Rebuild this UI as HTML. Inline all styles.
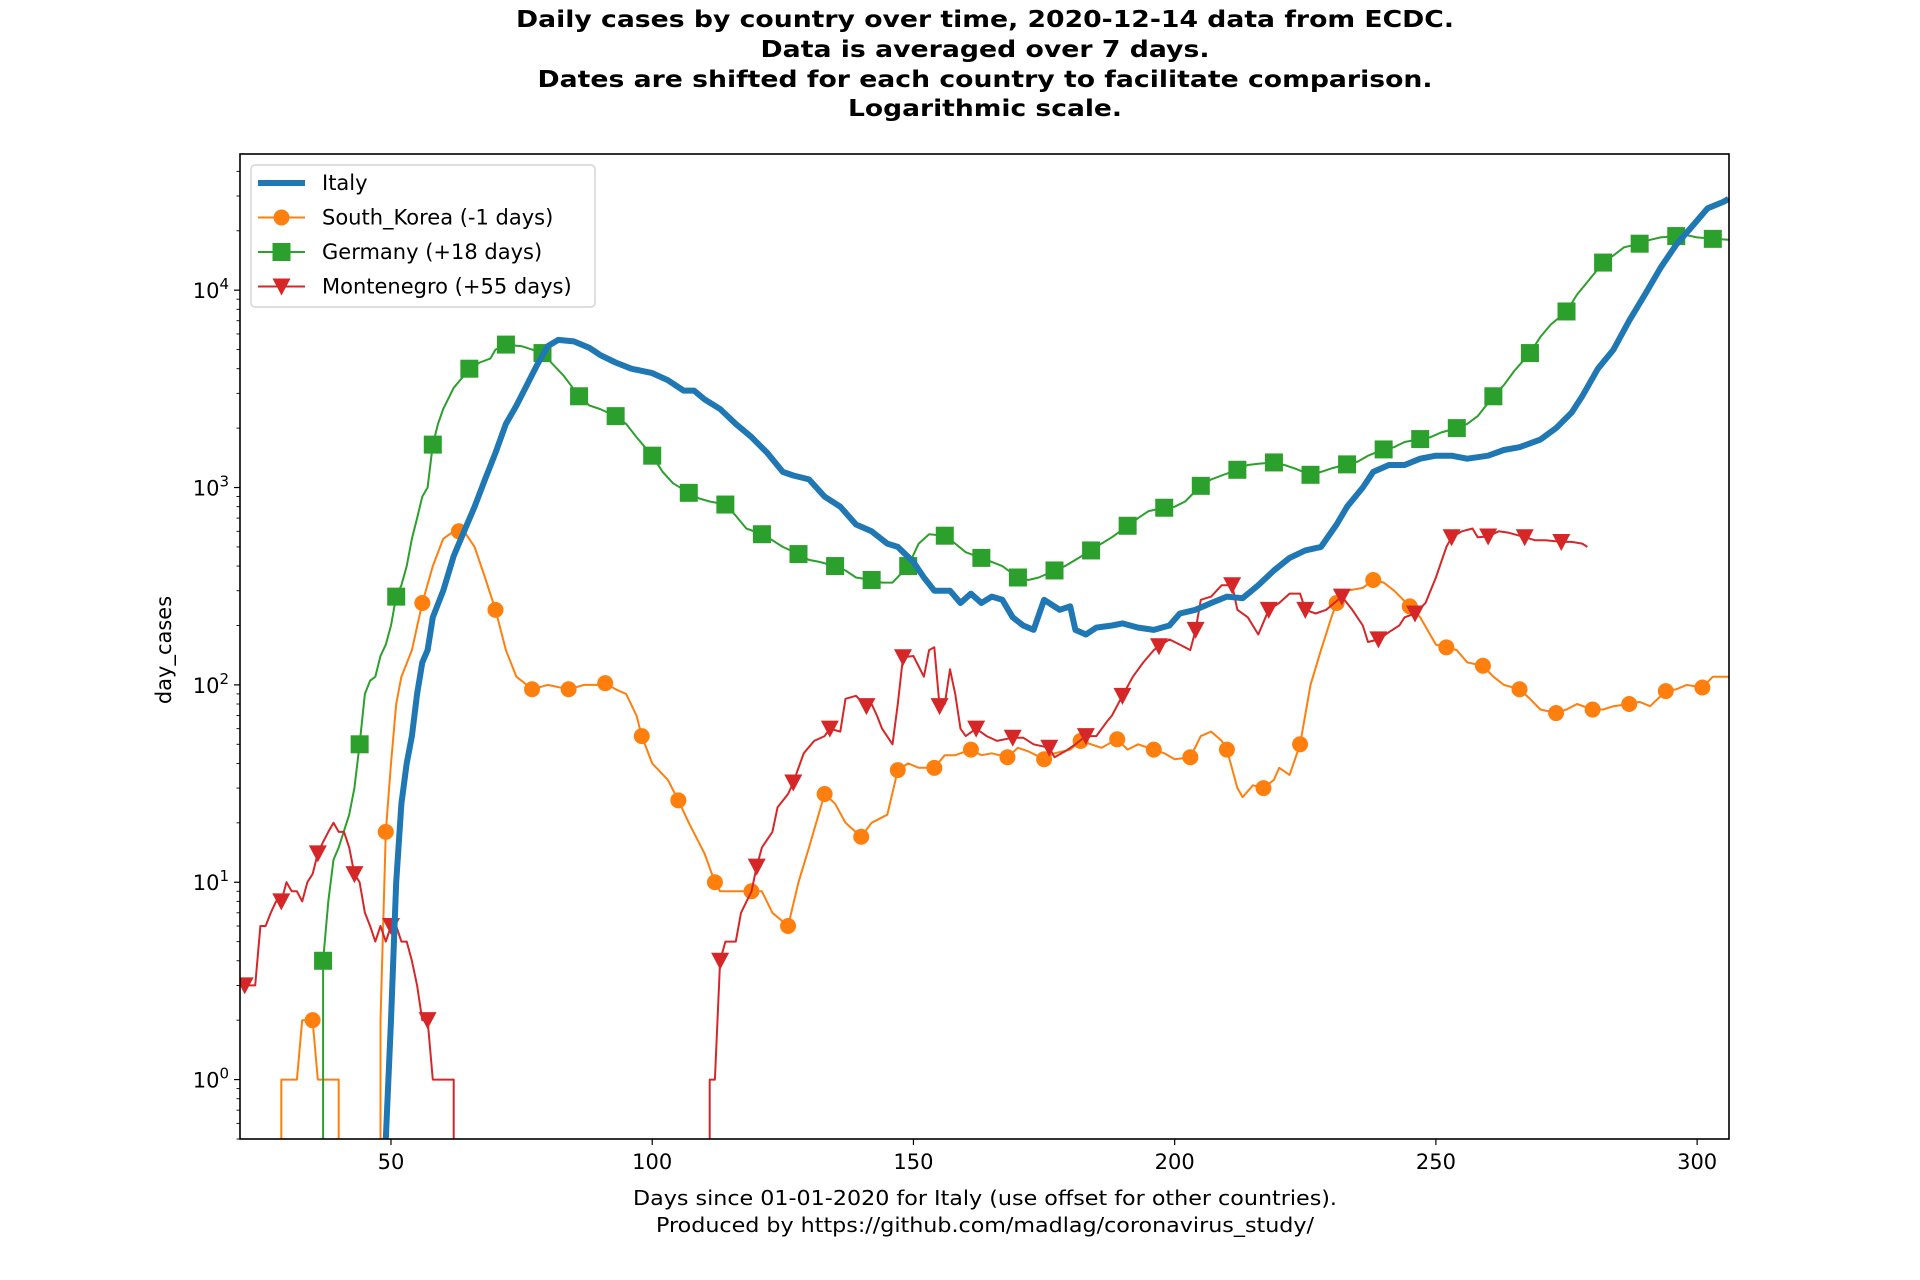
<!DOCTYPE html>
<html><head><meta charset="utf-8"><style>
html,body{margin:0;padding:0;background:#fff;overflow:hidden;width:1920px;height:1280px;}
svg{display:block;font-family:"DejaVu Sans","Liberation Sans",sans-serif;overflow:hidden;}
</style></head><body>
<svg id="chart" width="1920" height="1280" viewBox="0 0 1920 1280" xmlns="http://www.w3.org/2000/svg">
<g font-weight="bold" font-size="23" text-anchor="middle" fill="#000">
<text x="985" y="27" textLength="938" lengthAdjust="spacingAndGlyphs">Daily cases by country over time, 2020-12-14 data from ECDC.</text>
<text x="985" y="57" textLength="449" lengthAdjust="spacingAndGlyphs">Data is averaged over 7 days.</text>
<text x="985" y="87" textLength="895" lengthAdjust="spacingAndGlyphs">Dates are shifted for each country to facilitate comparison.</text>
<text x="985" y="116" textLength="274" lengthAdjust="spacingAndGlyphs">Logarithmic scale.</text>
</g>
<defs><clipPath id="plotclip"><rect x="240" y="154" width="1489" height="985"/></clipPath></defs>
<g id="plot" clip-path="url(#plotclip)"></g>
<rect x="240" y="154" width="1489" height="985" fill="none" stroke="#000" stroke-width="1.6"/>
<g id="axes"></g>
<text x="0" y="0" font-size="21" text-anchor="middle" transform="translate(171,650) rotate(-90)">day_cases</text>
<g font-size="20" text-anchor="middle">
<text x="985" y="1205" textLength="704" lengthAdjust="spacingAndGlyphs">Days since 01-01-2020 for Italy (use offset for other countries).</text>
<text x="985" y="1232" textLength="658" lengthAdjust="spacingAndGlyphs">Produced by https://github.com/madlag/coronavirus_study/</text>
</g>
<g id="legend"></g>
</svg>
<script>
const xTicks=[50,100,150,200,250,300];
const yTickExps=[0,1,2,3,4];
const italyDays=[48,49,50,51,52,53,54,55,56,57,58,60,62,64,66,68,70,72,74,76,78,80,82,85,88,90,93,96,100,103,106,108,110,113,116,119,122,125,127,130,133,136,139,142,145,147,150,152,154,157,159,161,163,165,167,169,171,173,175,178,180,181,183,185,188,190,193,196,199,201,204,207,210,213,216,219,222,225,228,231,233,236,238,241,244,247,250,253,256,260,263,266,270,273,276,278,281,284,287,290,293,296,299,302,305,306];
const italyVals=[0,0.5,2,10,25,40,55,90,130,150,220,300,450,600,800,1100,1500,2100,2600,3300,4200,5200,5600,5500,5100,4700,4300,4000,3800,3500,3100,3100,2800,2500,2100,1800,1500,1200,1150,1100,900,800,650,600,520,500,420,350,300,300,260,290,260,280,270,220,200,190,270,240,250,190,180,195,200,205,195,190,200,230,240,260,280,275,320,380,440,480,500,650,800,1000,1200,1300,1300,1400,1450,1450,1400,1450,1550,1600,1750,2000,2400,2900,4000,5000,7000,9500,13000,17000,21000,26000,28000,29000];
const koreaDays=[21,28,29,32,33,35,36,40,41,47,48,49,50,51,52,54,56,58,60,62,64,66,68,70,72,74,76,77,80,84,87,90,91,93,95,97,98,100,103,105,107,110,112,113,116,119,121,123,126,128,130,133,135,137,140,142,145,147,149,151,154,156,158,161,163,165,168,170,172,175,177,180,182,184,186,189,191,193,196,198,200,203,205,207,209,210,212,213,215,217,219,220,222,224,226,228,230,231,233,236,238,240,242,245,247,250,252,254,256,259,261,263,266,268,270,273,275,277,280,282,284,287,289,291,294,296,298,301,303,306];
const koreaVals=[0,0,1,1,2,2,1,1,0,0,2,18,40,80,110,150,260,400,550,600,600,500,350,240,150,110,100,95,100,95,100,100,102,95,90,70,55,40,33,26,20,14,10,9,9,9,9,7,6,10,15,28,25,20,17,20,22,37,40,38,38,44,44,47,44,45,43,48,46,42,45,47,52,50,48,53,47,50,47,45,42,43,55,58,52,47,30,27,31,30,33,38,35,50,100,150,220,260,300,310,340,330,300,250,220,160,155,150,130,125,110,100,95,85,75,72,75,80,75,75,78,80,82,78,93,95,100,97,110,110];
const germanyDays=[21,36,37,38,39,40,42,43,44,45,46,47,48,49,50,51,52,53,54,55,56,57,58,59,60,62,64,65,67,69,70,72,75,77,79,81,83,86,88,90,93,95,97,100,102,104,107,109,111,114,116,118,121,123,125,128,130,132,135,137,139,142,144,146,149,151,153,156,158,160,163,165,167,170,172,174,177,179,181,184,186,188,191,193,195,198,200,202,205,207,209,212,214,216,219,221,223,226,228,230,233,235,237,240,242,244,247,249,251,254,256,258,261,263,265,268,270,272,275,277,279,282,284,286,289,291,293,296,298,300,303,306];
const germanyVals=[0,0,4,8,13,15,22,30,50,90,105,110,140,160,200,280,320,400,550,700,900,1000,1650,2100,2500,3200,3700,4000,4300,4500,5000,5300,5200,5000,4800,4200,3700,2900,2600,2500,2300,2100,1800,1450,1200,1050,940,880,850,820,720,620,580,540,500,460,430,420,400,380,350,340,330,330,400,520,580,570,520,470,440,420,400,350,340,350,380,400,430,480,520,560,640,700,760,790,800,850,1020,1100,1150,1230,1300,1320,1340,1300,1250,1160,1200,1250,1310,1350,1450,1560,1600,1700,1760,1800,1900,2000,2100,2300,2900,3300,3900,4800,5800,6700,7800,9500,11000,13800,15000,16500,17200,18000,18500,18800,19000,18500,18200,18000];
const montenegroDays=[21,22,24,25,26,27,28,29,30,31,32,33,34,35,36,37,38,39,40,41,42,43,44,45,46,47,48,49,50,51,52,53,54,55,56,57,58,62,63,110,111,112,113,114,116,117,119,120,121,123,124,126,127,129,131,133,134,136,137,139,141,142,143,144,146,147,148,150,152,153,154,155,156,157,158,159,160,162,164,166,169,171,173,176,177,179,181,183,185,187,188,190,192,194,196,197,199,201,203,204,205,207,209,211,212,214,216,218,220,222,224,225,227,229,232,234,236,237,239,241,243,244,246,248,250,252,253,255,257,258,260,262,264,267,269,271,274,276,278,279];
const montenegroVals=[3,3,3,6,6,7,8,8,10,9,9,8,10,11,14,16,18,20,18,18,15,11,10,7,6,5,6,5,6,6,5,5,4,3,2,2,1,1,0,0,1,1,4,5,5,7,9,12,15,18,24,28,32,45,52,55,60,58,85,88,78,80,70,60,50,80,138,140,110,150,155,78,80,120,90,60,55,60,55,52,54,54,50,48,43,46,50,55,55,65,70,88,110,130,150,157,170,160,150,190,270,280,320,320,240,220,180,240,260,290,290,240,230,240,280,240,200,165,170,185,200,220,230,260,350,500,560,600,620,560,565,600,590,560,540,540,530,530,520,500];

const X0=240,X1=1729,Y0=154,Y1=1139;
const xmin=21.1,xmax=306.1,lymin=Math.log10(0.5),lymax=4.69;
const YLOW=Y1+3;
function xs(d){return X0+(d-xmin)/(xmax-xmin)*(X1-X0);}
function ys(v){if(v<=0)return YLOW;return Math.min(YLOW,Y1-(Math.log10(v)-lymin)/(lymax-lymin)*(Y1-Y0));}
const NS="http://www.w3.org/2000/svg";
function mk(tag,attrs,parent){const e=document.createElementNS(NS,tag);for(const k in attrs)e.setAttribute(k,attrs[k]);parent.appendChild(e);return e;}
const plot=document.getElementById('plot'),axes=document.getElementById('axes'),legend=document.getElementById('legend');

function valAt(days,vals,d){
  for(let i=0;i<days.length-1;i++){
    if(d>=days[i]&&d<=days[i+1]){
      const a=vals[i],b=vals[i+1];
      if(a<=0||b<=0)return (d===days[i]?a:(d===days[i+1]?b:0));
      const t=(d-days[i])/(days[i+1]-days[i]);
      return Math.pow(10,Math.log10(a)+(Math.log10(b)-Math.log10(a))*t);
    }
  }
  return 0;
}
function drawMarker(type,cx,cy,color,parent,name){
  let m;
  if(type==='circle')m=mk('circle',{cx:cx,cy:cy,r:8,fill:color},parent);
  else if(type==='square')m=mk('rect',{x:cx-9,y:cy-9,width:18,height:18,fill:color},parent);
  else m=mk('path',{d:`M${cx-9},${cy-8}L${cx+9},${cy-8}L${cx},${cy+9}Z`,fill:color},parent);
  
  
  return m;
}
function series(days,vals,color,width,name,marker,mod){
  const g=mk('g',{},plot);
  
  
  let d='';
  days.forEach((dd,i)=>{
    const v=vals[i];
    const cmd=i?'L':'M';
    if(i>0){
      const pv=vals[i-1];
      if(v<=0&&pv>0){d+='L'+xs(days[i-1]).toFixed(1)+','+YLOW;}
      else if(v>0&&pv<=0){d+='L'+xs(dd).toFixed(1)+','+YLOW;}
    }
    d+=cmd+xs(dd).toFixed(1)+','+ys(v).toFixed(1);
  });
  const p=mk('path',{d:d,fill:'none',stroke:color,'stroke-width':width,'stroke-linejoin':'round'},g);
  
  
  if(marker){
    for(let dd=Math.ceil(days[0]);dd<=days[days.length-1];dd++){
      if(((dd%7)+7)%7!==mod)continue;
      const v=valAt(days,vals,dd);
      if(v<0.5)continue;
      drawMarker(marker,xs(dd),ys(v),color,g,name+'-marker');
    }
  }
}
series(koreaDays,koreaVals,'#ff7f0e',2,'south-korea','circle',0);
series(germanyDays,germanyVals,'#2ca02c',2,'germany','square',2);
series(montenegroDays,montenegroVals,'#d62728',2,'montenegro','triangle',1);
series(italyDays,italyVals,'#1f77b4',6,'italy',null,0);

xTicks.forEach(t=>{
  const x=xs(t);
  const l=mk('line',{x1:x,x2:x,y1:Y1,y2:Y1+6,stroke:'#000','stroke-width':1.2},axes);
  
  
  const tx=mk('text',{x:x,y:Y1+30,'font-size':21,'text-anchor':'middle'},axes);
  
  
  tx.textContent=t;
});
yTickExps.forEach(e=>{
  const y=ys(Math.pow(10,e));
  const l=mk('line',{x1:X0-6,x2:X0,y1:y,y2:y,stroke:'#000','stroke-width':1.2},axes);
  
  
  const tx=mk('text',{x:X0-11,y:y+8,'font-size':21,'text-anchor':'end'},axes);
  
  
  tx.textContent='10';
  const sup=mk('tspan',{dy:-9,'font-size':15},tx);
  sup.textContent=String(e);
});
for(let e=-1;e<=4;e++){for(let k=2;k<=9;k++){
  const v=k*Math.pow(10,e);const y=Y1-(Math.log10(v)-lymin)/(lymax-lymin)*(Y1-Y0);
  if(y<Y0||y>Y1)continue;
  const l=mk('line',{x1:X0-3.5,x2:X0,y1:y,y2:y,stroke:'#000','stroke-width':0.9},axes);
  
  
}}
const lb=mk('rect',{x:251,y:165,width:344,height:142,rx:4,fill:'#fff','fill-opacity':0.8,stroke:'#ccc','stroke-width':1.2},legend);


const legItems=[['Italy','#1f77b4',null,6],['South_Korea (-1 days)','#ff7f0e','circle',2],['Germany (+18 days)','#2ca02c','square',2],['Montenegro (+55 days)','#d62728','triangle',2]];
legItems.forEach((it,i)=>{
  const y=183+i*34.5;
  const g=mk('g',{},legend);
  
  
  mk('line',{x1:258,x2:305,y1:y,y2:y,stroke:it[1],'stroke-width':it[3]},g);
  if(it[2])drawMarker(it[2],281.5,y,it[1],g,'legend-marker');
  const t=mk('text',{x:322,y:y+7,'font-size':21},g);
  t.textContent=it[0];
});
</script>
</body></html>
